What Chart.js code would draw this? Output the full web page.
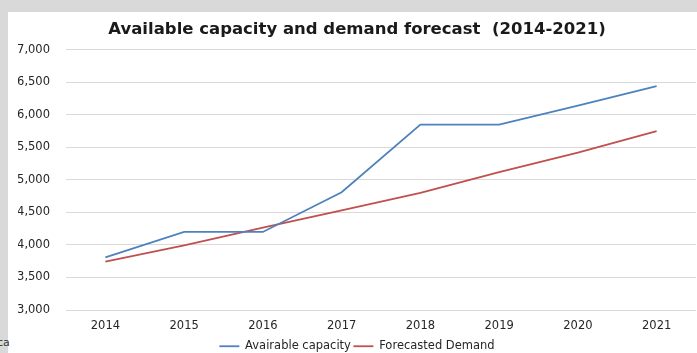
<!DOCTYPE html>
<html>
<head>
<meta charset="utf-8">
<script src="https://cdn.jsdelivr.net/npm/chart.js@4.4.1/dist/chart.umd.min.js"></script>
<style>
  html, body { margin: 0; padding: 0; }
  body { width: 697px; height: 353px; background: #d9d9d9; position: relative; overflow: hidden; font-family: "DejaVu Sans", sans-serif; }
  #panel { position: absolute; left: 8px; top: 12px; width: 689px; height: 341px; background: #ffffff; }
  #side { position: absolute; left: -3px; top: 336px; font-size: 11px; color: #333; font-family: "DejaVu Sans", sans-serif; }
  #wrap { position: absolute; left: 0; top: 0; width: 697px; height: 353px; }
</style>
</head>
<body>
<div id="panel"></div>
<div id="side">ca</div>
<div id="wrap"><canvas id="c" width="697" height="353"></canvas></div>
<script>
const years = ["2014", "2015", "2016", "2017", "2018", "2019", "2020", "2021"];
const availableCapacity = [3810, 4200, 4200, 4810, 5850, 5850, 6140, 6440];
const forecastedDemand = [3745, 3995, 4265, 4530, 4800, 5120, 5420, 5750];
const yTicks = [3000, 3500, 4000, 4500, 5000, 5500, 6000, 6500, 7000];
const chartTitle = "Available capacity and demand forecast  (2014-2021)";
const seriesNames = ["Avairable capacity", "Forecasted Demand"];

new Chart(document.getElementById('c'), {
  type: 'line',
  data: {
    labels: years,
    datasets: [
      { label: seriesNames[0], data: availableCapacity, borderColor: '#4f81bd', backgroundColor: '#4f81bd', borderWidth: 1.8, pointRadius: 0, tension: 0 },
      { label: seriesNames[1], data: forecastedDemand, borderColor: '#c0504d', backgroundColor: '#c0504d', borderWidth: 1.8, pointRadius: 0, tension: 0 }
    ]
  },
  options: {
    responsive: false,
    animation: false,
    layout: { padding: { left: 18, right: 1, top: 0, bottom: -9 } },
    plugins: {
      title: {
        display: true, text: chartTitle, color: '#1a1a1a',
        font: { family: 'DejaVu Sans', size: 16.5, weight: 'bold' },
        padding: { top: 20, bottom: 10 }
      },
      legend: {
        position: 'bottom',
        labels: {
          usePointStyle: true, pointStyle: 'line', pointStyleWidth: 20,
          color: '#262626', font: { family: 'DejaVu Sans', size: 11.5 },
          padding: 2.5, boxHeight: 11
        }
      },
      tooltip: { enabled: false }
    },
    scales: {
      x: {
        offset: true,
        afterFit: (s) => { s.height = 28; },
        grid: { display: false, drawTicks: false },
        border: { display: false },
        ticks: { color: '#262626', font: { family: 'DejaVu Sans', size: 11.5 }, padding: 9, maxRotation: 0 }
      },
      y: {
        min: 3000, max: 7000,
        afterBuildTicks: (s) => { s.ticks = yTicks.map(v => ({ value: v })); },
        afterFit: (s) => { s.width = 48; },
        grid: { color: '#d9d9d9', lineWidth: 1, drawTicks: false },
        border: { display: false },
        ticks: { color: '#262626', font: { family: 'DejaVu Sans', size: 11.5 }, padding: 16,
                 callback: (v) => v.toLocaleString('en-US') }
      }
    }
  }
});
</script>
</body>
</html>
